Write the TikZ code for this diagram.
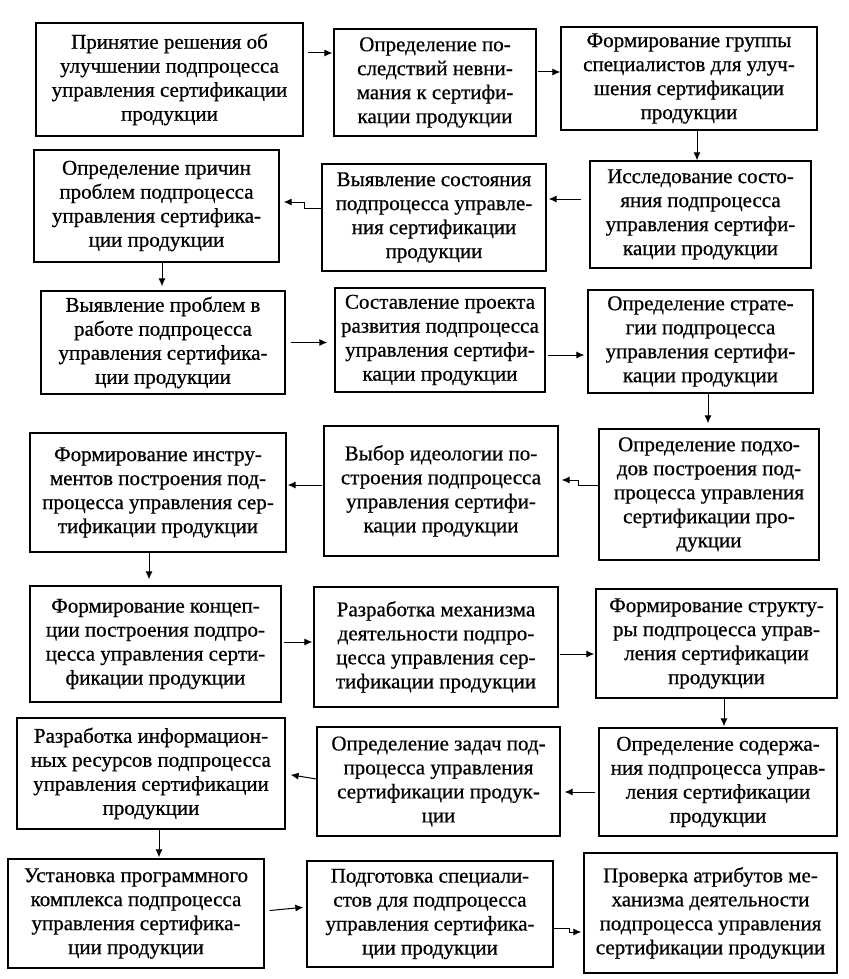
\documentclass[tikz,border=0pt]{standalone}
\usepackage{fontspec}
\setmainfont[FakeBold=0.6]{Liberation Serif}
\usetikzlibrary{arrows.meta}
\tikzset{
  box/.style={draw, line width=1.3pt, inner sep=0pt, align=center,
    font=\fontsize{21}{24}\selectfont},
  arr/.style={line width=1pt, -{Latex[length=8pt,width=7pt]}}
}
\newcommand\bx[6]{\node[box, minimum width={(#4-#2)*1pt}, minimum height={(#5-#3)*1pt}] (#1) at ({(#2+#4)/2},{(#3+#5)/2}) {#6};}
\begin{document}
\begin{tikzpicture}[x=1pt,y=-1pt]
\fill[white] (0,0) rectangle (848,979);
\useasboundingbox (0,0) rectangle (848,979);
% row 1
\bx{A}{36}{23}{303}{136}{Принятие решения об\\улучшении подпроцесса\\управления сертификации\\продукции}
\bx{B}{334}{29}{536}{136}{Определение по-\\следствий невни-\\мания к сертифи-\\кации продукции}
\bx{C}{561}{27}{817}{130}{Формирование группы\\специалистов для улуч-\\шения сертификации\\продукции}
% row 2
\bx{D}{34}{150}{279}{262}{Определение причин\\проблем подпроцесса\\управления сертифика-\\ции продукции}
\bx{E}{322}{164}{546}{271}{Выявление состояния\\подпроцесса управле-\\ния сертификации\\продукции}
\bx{F}{590}{161}{811}{268}{Исследование состо-\\яния подпроцесса\\управления сертифи-\\кации продукции}
% row 3
\bx{G}{41}{291}{285}{394}{Выявление проблем в\\работе подпроцесса\\управления сертифика-\\ции продукции}
\bx{H}{335}{288}{545}{392}{Составление проекта\\развития подпроцесса\\управления сертифи-\\кации продукции}
\bx{I}{588}{290}{813}{393}{Определение страте-\\гии подпроцесса\\управления сертифи-\\кации продукции}
% row 4
\bx{K}{30}{433}{286}{552}{Формирование инстру-\\ментов построения под-\\процесса управления сер-\\тификации продукции}
\bx{L}{324}{426}{558}{556}{Выбор идеологии по-\\строения подпроцесса\\управления сертифи-\\кации продукции}
\bx{J}{599}{429}{819}{560}{Определение подхо-\\дов построения под-\\процесса управления\\сертификации про-\\дукции}
% row 5
\bx{M}{30}{586}{281}{702}{Формирование концеп-\\ции построения подпро-\\цесса управления серти-\\фикации продукции}
\bx{N}{314}{587}{558}{707}{Разработка механизма\\деятельности подпро-\\цесса управления сер-\\тификации продукции}
\bx{O}{596}{589}{837}{698}{Формирование структу-\\ры подпроцесса управ-\\ления сертификации\\продукции}
% row 6
\bx{Q}{17}{718}{285}{829}{Разработка информацион-\\ных ресурсов подпроцесса\\управления сертификации\\продукции}
\bx{R}{317}{727}{560}{836}{Определение задач под-\\процесса управления\\сертификации продук-\\ции}
\bx{P}{599}{728}{837}{836}{Определение содержа-\\ния подпроцесса управ-\\ления сертификации\\продукции}
% row 7
\bx{S}{8}{859}{264}{968}{Установка программного\\комплекса подпроцесса\\управления сертифика-\\ции продукции}
\bx{T}{307}{861}{553}{967}{Подготовка специали-\\стов для подпроцесса\\управления сертифика-\\ции продукции}
\bx{U}{584}{853}{837}{973}{Проверка атрибутов ме-\\ханизма деятельности\\подпроцесса управления\\сертификации продукции}
% connectors
\draw[arr, shorten <=4pt, shorten >=1pt] ([yshift=26.5pt]A.east) -- ([yshift=26.5pt]A.east -| B.west);
\draw[arr, shorten <=1pt, shorten >=0pt] ([yshift=10.5pt]B.east) -- ([yshift=10.5pt]B.east -| C.west);
\draw[arr] ([xshift=8pt]C.south) -- ([xshift=8pt]C.south |- F.north);
\draw[arr, shorten <=8pt, shorten >=2pt] ([yshift=15.5pt]F.west) -- ([yshift=15.5pt]F.west -| E.east);
\draw[arr, shorten >=4pt] ([yshift=9.5pt]E.west) -- ++(-17pt,0) |- ([yshift=4pt]D.east);
\draw[arr, shorten >=4pt] ([xshift=5.5pt]D.south) -- ([xshift=5.5pt]D.south |- G.north);
\draw[arr, shorten <=5pt, shorten >=7pt] (G.east) -- (G.east -| H.west);
\draw[arr, shorten <=2pt, shorten >=3pt] ([yshift=-15pt]H.east) -- ([yshift=-15pt]H.east -| I.west);
\draw[arr, shorten >=5pt] ([xshift=7.5pt]I.south) -- ([xshift=7.5pt]I.south |- J.north);
\draw[arr, shorten >=3pt] ([yshift=9.5pt]J.west) -- ++(-20pt,0) |- ([yshift=11pt]L.east);
\draw[arr, shorten <=1pt, shorten >=1pt] ([yshift=6pt]L.west) -- ([yshift=6pt]L.west -| K.east);
\draw[arr, shorten >=6pt] ([xshift=-9pt]K.south) -- ([xshift=-9pt]K.south |- M.north);
\draw[arr, shorten <=2pt, shorten >=1pt] ([yshift=2pt]M.east) -- ([yshift=2pt]M.east -| N.west);
\draw[arr, shorten <=1pt, shorten >=1pt] ([yshift=-7pt]N.east) -- ([yshift=-7pt]N.east -| O.west);
\draw[arr, shorten >=1pt] ([xshift=7.5pt]O.south) -- ([xshift=7.5pt]O.south |- P.north);
\draw[arr, shorten <=3pt, shorten >=4pt] ([yshift=-10pt]P.west) -- ([yshift=-10pt]P.west -| R.east);
\draw[arr, shorten >=5pt] ([yshift=2.5pt]R.west) -- ([yshift=-0.5pt]Q.east);
\draw[arr, shorten >=1pt] ([xshift=8pt]Q.south) -- ([xshift=8pt]Q.south |- S.north);
\draw[arr, shorten <=5pt, shorten >=3pt] ([yshift=2.5pt]S.east) -- ([yshift=7pt]T.west);
\draw[arr, shorten >=2pt] ([yshift=-14pt]T.east) -- ++(16pt,0) |- ([yshift=-19pt]U.west);
\end{tikzpicture}
\end{document}
